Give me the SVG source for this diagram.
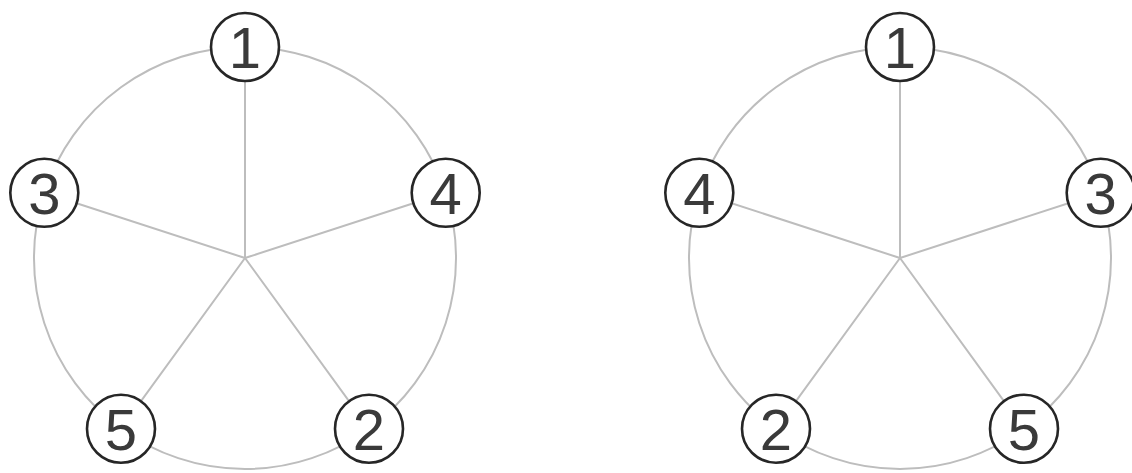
<svg xmlns="http://www.w3.org/2000/svg" width="1132" height="473" viewBox="0 0 1132 473">
<style>
.e{fill:none;stroke:#bdbdbd;stroke-width:2}
.n circle{fill:#fff;stroke:#262626;stroke-width:2.6}
.n text{font-family:"Liberation Sans",Arial,sans-serif;font-size:58px;fill:#3a3a3a;text-anchor:middle}
</style>
<rect width="1132" height="473" fill="#fff"/>
<g id="connectors">
<path class="e" d="M245 47 A211 211 0 0 1 445.7 192.8 A211 211 0 0 1 369 428.7 A211 211 0 0 1 121 428.7 A211 211 0 0 1 44.3 192.8 A211 211 0 0 1 245 47"/>
<path class="e" d="M245 258 L245 47 M245 258 L445.7 192.8 M245 258 L369 428.7 M245 258 L121 428.7 M245 258 L44.3 192.8"/>
<path class="e" d="M900 47 A211 211 0 0 1 1100.7 192.8 A211 211 0 0 1 1024 428.7 A211 211 0 0 1 776 428.7 A211 211 0 0 1 699.3 192.8 A211 211 0 0 1 900 47"/>
<path class="e" d="M900 258 L900 47 M900 258 L1100.7 192.8 M900 258 L1024 428.7 M900 258 L776 428.7 M900 258 L699.3 192.8"/>
</g>
<g id="L1" class="n"><circle cx="245" cy="47" r="34"/><text x="245" y="68">1</text></g>
<g id="L4" class="n"><circle cx="445.7" cy="192.8" r="34"/><text x="445.7" y="213.8">4</text></g>
<g id="L2" class="n"><circle cx="369" cy="428.7" r="34"/><text x="369" y="449.7">2</text></g>
<g id="L5" class="n"><circle cx="121" cy="428.7" r="34"/><text x="121" y="449.7">5</text></g>
<g id="L3" class="n"><circle cx="44.3" cy="192.8" r="34"/><text x="44.3" y="213.8">3</text></g>
<g id="R1" class="n"><circle cx="900" cy="47" r="34"/><text x="900" y="68">1</text></g>
<g id="R3" class="n"><circle cx="1100.7" cy="192.8" r="34"/><text x="1100.7" y="213.8">3</text></g>
<g id="R5" class="n"><circle cx="1024" cy="428.7" r="34"/><text x="1024" y="449.7">5</text></g>
<g id="R2" class="n"><circle cx="776" cy="428.7" r="34"/><text x="776" y="449.7">2</text></g>
<g id="R4" class="n"><circle cx="699.3" cy="192.8" r="34"/><text x="699.3" y="213.8">4</text></g>
</svg>
